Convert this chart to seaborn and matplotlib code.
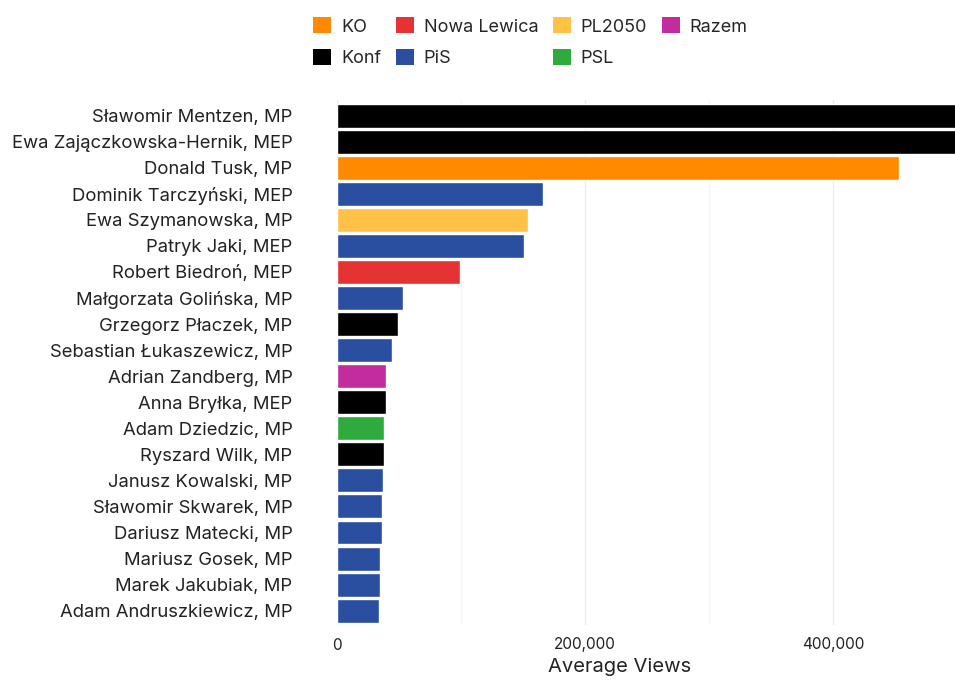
import matplotlib
matplotlib.use("Agg")
import matplotlib.pyplot as plt
import seaborn as sns
import pandas as pd
from matplotlib.ticker import FuncFormatter, MultipleLocator
from matplotlib.patches import Patch

names = ["Sławomir Mentzen, MP", "Ewa Zajączkowska-Hernik, MEP", "Donald Tusk, MP",
         "Dominik Tarczyński, MEP", "Ewa Szymanowska, MP", "Patryk Jaki, MEP",
         "Robert Biedroń, MEP", "Małgorzata Golińska, MP", "Grzegorz Płaczek, MP",
         "Sebastian Łukaszewicz, MP", "Adrian Zandberg, MP", "Anna Bryłka, MEP",
         "Adam Dziedzic, MP", "Ryszard Wilk, MP", "Janusz Kowalski, MP",
         "Sławomir Skwarek, MP", "Dariusz Matecki, MP", "Mariusz Gosek, MP",
         "Marek Jakubiak, MP", "Adam Andruszkiewicz, MP"]
parties = ["Konf", "Konf", "KO", "PiS", "PL2050", "PiS", "Nowa Lewica", "PiS", "Konf",
           "PiS", "Razem", "Konf", "PSL", "Konf", "PiS", "PiS", "PiS", "PiS", "PiS", "PiS"]
views = [620000, 560000, 453000, 166000, 154000, 151000, 99000, 53000, 49500,
         44500, 39500, 39500, 38000, 38000, 37000, 36000, 36000, 35000, 35000, 33500]

party_order = ["KO", "Konf", "Nowa Lewica", "PiS", "PL2050", "PSL", "Razem"]
party_colors = {"KO": "#FF8A00", "Konf": "#000000", "Nowa Lewica": "#E53232",
                "PiS": "#2A4FA0", "PL2050": "#FFC247", "PSL": "#2FAA3C",
                "Razem": "#C22C9F"}

df = pd.DataFrame({"name": names, "party": parties, "views": views})

sns.set_theme(style="white")
plt.rcParams["font.family"] = ["Inter", "DejaVu Sans"]

fig = plt.figure(figsize=(9.55, 6.8), dpi=100)
ax = fig.add_axes([337/955, 1 - 625/680, 1 - 337/955, (625 - 100)/680])

sns.barplot(data=df, y="name", x="views", hue="party", hue_order=party_order,
            palette=party_colors, saturation=1, dodge=False, orient="h", width=0.92,
            edgecolor="white", linewidth=1.0, legend=False, ax=ax, zorder=3)

ax.set_xlim(0, 498000)
ax.set_ylim(len(names) - 0.45, -0.6)
ax.xaxis.set_major_locator(MultipleLocator(200000))
ax.xaxis.set_minor_locator(MultipleLocator(100000))
ax.xaxis.set_major_formatter(FuncFormatter(lambda v, p: f"{int(v):,}"))
ax.grid(axis="x", which="major", color="#EBEBEB", linewidth=1.0, zorder=0)
ax.grid(axis="x", which="minor", color="#F4F4F4", linewidth=0.8, zorder=0)
ax.grid(axis="y", visible=False)
ax.set_axisbelow(True)
for s in ax.spines.values():
    s.set_visible(False)
ax.tick_params(axis="both", which="both", length=0, colors="#222222")
ax.tick_params(axis="y", labelsize=13.3, pad=32)
ax.tick_params(axis="x", labelsize=11, pad=9)
ax.set_ylabel("")
ax.set_xlabel("Average Views", fontsize=14.5, color="#222222")
ax.xaxis.set_label_coords((620 - 337) / (955 - 337), -0.063, transform=ax.transAxes)
ax.xaxis.label.set_va("top")

handles = [Patch(facecolor=party_colors[p], edgecolor="none", label=p) for p in party_order]
fig.legend(handles=handles, loc="upper left", bbox_to_anchor=(297/955, 1 - 1/680),
           ncol=4, frameon=False, fontsize=13, handlelength=1.0, handleheight=1.0,
           handletextpad=0.55, columnspacing=0.8, labelspacing=0.75)

fig.savefig("out.png", dpi=100)
